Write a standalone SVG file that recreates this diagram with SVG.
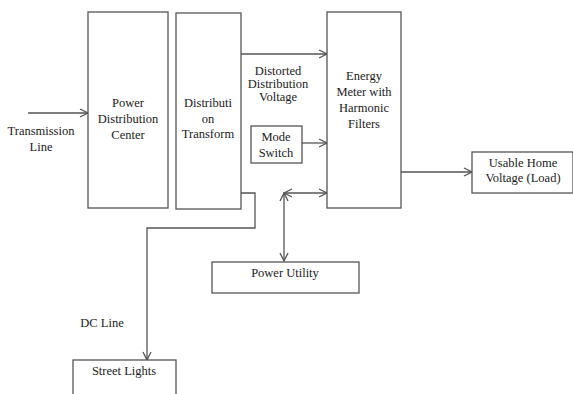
<svg xmlns="http://www.w3.org/2000/svg" width="573" height="394" viewBox="0 0 573 394">
<defs>
<style>
.box{fill:#fff;stroke:#555;stroke-width:1.3}
.ln{fill:none;stroke:#555;stroke-width:1.3}
text{font-family:'Liberation Serif','DejaVu Serif',serif;font-size:12.5px;fill:#1a1a1a;text-anchor:middle}
</style>
<marker id="ah" viewBox="0 0 10 10" refX="9" refY="5" markerWidth="10" markerHeight="10" markerUnits="userSpaceOnUse" orient="auto-start-reverse">
<path d="M1,1 L9,5 L1,9" fill="none" stroke="#555" stroke-width="1.3"/>
</marker>
</defs>
<rect width="573" height="394" fill="#fff"/>
<g id="connectors">
<line class="ln" x1="28" y1="113" x2="88" y2="113" marker-end="url(#ah)"/>
<line class="ln" x1="241" y1="54" x2="327" y2="54" marker-end="url(#ah)"/>
<line class="ln" x1="302" y1="143" x2="327" y2="143" marker-end="url(#ah)"/>
<line class="ln" x1="401" y1="172" x2="472" y2="172" marker-end="url(#ah)"/>
<line class="ln" x1="284" y1="193" x2="327" y2="193" marker-start="url(#ah)" marker-end="url(#ah)"/>
<line class="ln" x1="284" y1="193" x2="284" y2="261" marker-start="url(#ah)" marker-end="url(#ah)"/>
<polyline class="ln" points="241,193 255,193 255,228 147,228 147,360" marker-end="url(#ah)"/>
</g>
<g id="transmission-line">
<text x="41" y="135">Transmission</text>
<text x="41" y="151">Line</text>
</g>
<g id="power-distribution-center">
<rect class="box" x="88" y="12" width="80" height="196"/>
<text x="128" y="107">Power</text>
<text x="128" y="123">Distribution</text>
<text x="128" y="139">Center</text>
</g>
<g id="distribution-transform">
<rect class="box" x="176" y="13" width="65" height="196"/>
<text x="208" y="107">Distributi</text>
<text x="208" y="123">on</text>
<text x="208" y="138">Transform</text>
</g>
<g id="distorted-label">
<text x="278" y="75">Distorted</text>
<text x="278" y="88">Distribution</text>
<text x="278" y="101">Voltage</text>
</g>
<g id="mode-switch">
<rect class="box" x="251" y="126" width="51" height="37"/>
<text x="276" y="141">Mode</text>
<text x="276" y="157">Switch</text>
</g>
<g id="energy-meter">
<rect class="box" x="327" y="12" width="74" height="196"/>
<text x="364" y="80">Energy</text>
<text x="364" y="96">Meter with</text>
<text x="364" y="112">Harmonic</text>
<text x="364" y="128">Filters</text>
</g>
<g id="usable-home-voltage">
<rect class="box" x="472" y="152" width="101" height="41"/>
<text x="523" y="167">Usable Home</text>
<text x="523" y="182">Voltage (Load)</text>
</g>
<g id="power-utility">
<rect class="box" x="212" y="262" width="147" height="31"/>
<text x="285" y="277">Power Utility</text>
</g>
<g id="dc-line-label">
<text x="102" y="327">DC Line</text>
</g>
<g id="street-lights">
<rect class="box" x="73" y="360" width="103" height="40"/>
<text x="124" y="375">Street Lights</text>
</g>
</svg>
